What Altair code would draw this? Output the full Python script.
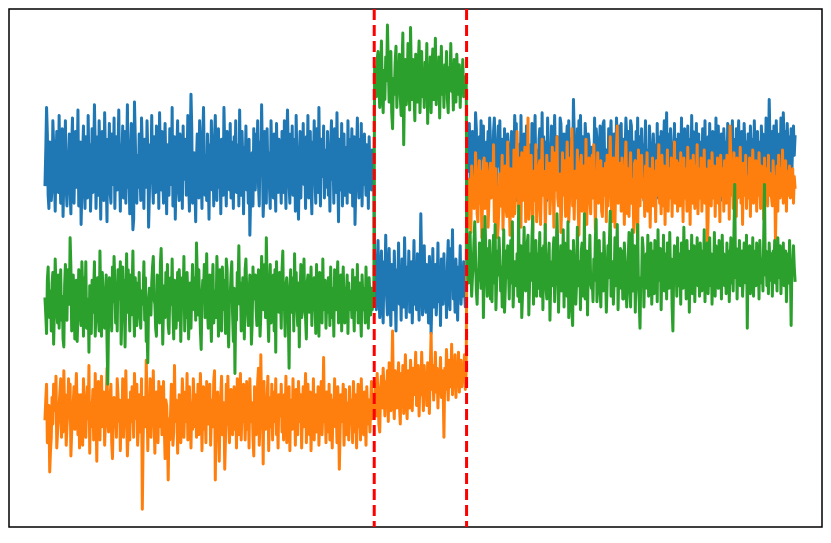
import altair as alt
import pandas as pd
import numpy as np

# Segment boundaries (time index) and change points
SEG_BOUNDS = [(0, 438), (439, 561), (562, 999)]
CHANGE_POINTS = [438.5, 561.5]

# ---- Blue series ----
blue_seg1 = [131,144,160,150,127,122,147,139,125,130,155,146,134,121,140,151,148,128,157,136,124,144,152,119,133,141,155,130,123,143,
             141,150,128,120,146,156,135,124,141,151,130,139,159,123,136,147,116,129,143,153,133,122,149,140,126,157,137,146,121,132,
             152,128,140,161,145,122,135,149,127,155,139,118,143,151,130,125,158,141,133,117,148,137,154,128,124,150,140,131,156,122,
             139,149,129,143,159,135,121,146,140,153,126,133,151,124,141,161,130,137,120,145,154,128,114,118,162,149,133,124,142,130,
             150,137,125,156,145,133,122,148,139,130,155,143,115,127,146,138,157,132,124,149,140,128,153,135,145,122,158,141,129,151,
             134,124,143,154,137,120,146,139,127,152,141,131,160,123,140,149,118,134,145,155,130,125,150,137,143,122,153,133,140,148,
             127,139,157,132,121,146,165,152,124,137,143,130,117,140,150,133,126,155,145,135,122,148,160,138,127,142,125,150,134,118,
             146,136,155,129,143,123,149,157,135,125,142,152,130,139,120,148,140,127,160,145,133,123,151,136,142,129,154,126,147,138,
             122,149,134,155,128,139,146,123,159,137,127,151,141,120,145,133,153,129,140,124,148,112,126,135,143,123,152,138,129,150,
             140,155,131,123,147,136,161,141,119,129,151,138,124,152,135,143,130,122,155,139,146,126,150,135,121,154,137,128,148,141,
             133,124,151,139,128,155,136,122,147,159,143,131,124,150,137,153,127,134,148,121,157,140,129,118,139,151,126,145,136,154,
             131,141,122,149,136,157,126,139,151,130,120,147,137,155,133,124,152,142,128,160,136,123,148,139,134,153,126,144,136,130,
             151,127,140,121,146,155,133,142,124,152,137,128,158,134,117,148,141,129,154,123,136,150,127,138,145,124,155,134,148,128,
             140,152,123,135,149,116,130,143,156,136,126,148,133,154,123,141,131,150,137,127,146,139,122,149,134,141,129,144,138,135]
blue_seg2 = [103,94,84,100,110,91,81,98,106,87,79,102,93,112,89,82,98,107,88,78,101,95,84,106,92,76,99,
             90,109,86,97,80,103,94,85,111,95,81,100,89,106,83,97,102,79,92,110,86,98,84,105,91,80,96,
             120,100,82,94,108,88,83,101,92,79,104,96,75,89,107,85,95,101,82,91,109,87,97,78,103,94,86,
             105,89,98,81,100,110,91,84,107,95,114,88,98,83,103,92,80,100,94,108,86,97,89,102,92,85,95]
blue_seg3 = [148,139,136,154,144,130,138,151,146,134,140,158,152,128,136,147,149,134,155,141,143,153,132,137,126,147,140,151,136,156,
             148,131,141,128,151,156,143,136,129,144,153,138,155,134,124,148,141,132,152,130,141,127,150,146,138,137,130,151,127,133,
             140,157,147,154,125,145,146,137,132,157,131,140,143,150,129,123,153,147,144,138,134,146,128,154,150,135,144,157,133,125,
             144,126,148,152,140,137,158,130,149,141,147,133,125,156,145,135,146,128,153,129,152,143,157,137,132,149,143,138,127,156,
             154,144,131,134,150,140,124,147,153,140,155,136,131,148,144,137,163,150,128,145,133,152,136,155,143,157,138,126,149,130,
             134,154,147,140,130,150,147,138,137,145,129,144,136,156,134,152,148,125,140,141,153,130,131,147,154,155,137,143,144,127,
             134,152,136,148,155,141,131,133,150,138,140,156,147,130,145,153,137,154,129,126,148,141,143,156,149,135,144,151,131,155,
             153,141,134,147,140,128,151,138,156,132,143,149,127,152,136,146,125,141,155,134,144,138,130,153,147,136,143,128,150,140,
             137,146,132,154,126,149,140,130,151,136,147,144,155,134,141,158,128,150,138,131,152,146,137,143,127,154,136,148,130,140,
             150,132,143,137,156,128,147,138,152,134,144,129,153,141,136,148,131,157,140,151,130,146,137,154,126,143,150,134,147,138,
             131,152,141,136,155,127,146,140,149,133,154,137,144,130,151,138,147,128,156,136,143,153,134,146,125,150,140,131,152,144,
             137,147,129,154,141,134,150,144,138,155,131,148,140,127,152,136,146,155,137,143,130,151,140,134,154,144,136,147,128,150,
             141,134,153,144,137,148,131,155,140,146,128,151,136,147,138,130,153,143,150,134,144,137,156,132,152,140,163,147,136,144,
             151,131,153,141,134,155,140,146,130,150,138,156,143,136,158,147,140,151,133,154,144,137,149,141,152,136,147,153,142,149]

# ---- Orange series ----
orange_seg1 = [43,50,56,34,43,48,23,31,36,51,41,56,54,46,59,32,38,42,48,53,58,36,44,38,61,46,52,33,40,45,
               58,49,56,29,38,43,49,55,39,51,60,46,37,52,32,42,52,45,33,58,50,39,36,48,55,43,63,30,49,40,
               46,54,35,39,60,45,27,50,57,43,35,51,59,40,48,53,33,42,49,62,43,38,45,52,56,34,28,46,51,40,
               45,36,58,52,42,50,31,48,39,58,36,49,44,61,42,29,38,50,35,53,42,55,46,36,60,49,43,56,33,40,
               52,47,38,58,9,34,51,46,40,65,50,31,48,39,58,36,49,44,61,42,30,49,53,43,34,57,46,40,55,37,
               46,57,40,28,50,48,39,20,43,35,45,56,54,33,38,63,42,50,49,30,45,52,40,34,44,58,49,36,48,53,
               42,60,35,50,55,45,32,49,39,58,48,40,52,36,46,56,37,44,60,50,31,46,55,39,49,34,57,45,41,52,
               56,33,44,50,40,57,61,20,48,46,53,39,27,44,52,59,37,46,49,24,36,56,41,59,42,34,45,54,52,37,
               48,55,39,49,32,58,44,37,52,60,35,46,42,56,49,35,45,57,39,50,32,58,46,42,49,36,29,55,45,37,
               46,57,62,33,42,67,44,53,26,57,41,39,48,50,59,31,44,51,40,56,35,48,53,42,58,37,46,32,52,44,
               45,56,38,49,35,52,43,59,34,48,41,55,31,50,46,39,58,42,49,33,54,45,37,57,48,42,52,32,46,55,
               40,50,60,34,46,56,43,37,53,31,49,42,58,35,48,52,38,45,55,33,44,50,57,37,46,66,42,49,34,53,
               48,38,56,35,52,45,32,50,43,58,40,49,34,55,46,24,38,52,42,48,56,33,45,54,37,49,44,35,55,46,
               50,42,34,57,45,38,52,32,48,56,40,46,35,58,43,49,37,53,45,33,55,46,41,50,38,48,57,43,49,45]
orange_seg2 = [49,56,44,60,52,41,38,54,59,47,62,55,44,57,50,61,42,64,53,46,58,76,51,43,61,55,47,
               57,64,48,41,60,53,63,45,56,67,50,43,61,54,47,65,57,46,62,52,58,68,48,55,63,44,59,
               52,68,56,46,63,53,60,48,64,57,45,61,75,54,63,50,58,68,53,62,47,60,56,66,51,61,57,
               36,62,54,69,58,50,65,59,55,71,52,62,56,67,51,63,57,68,53,60,65,55,62,58,67,54,61]
orange_seg3 = [120,129,133,115,126,113,138,131,130,122,126,143,135,120,117,130,140,124,136,111,127,132,141,122,134,139,131,115,124,135,
               139,126,135,129,146,117,129,137,127,111,116,125,135,123,131,142,114,126,131,138,122,119,147,132,126,112,137,136,129,119,
               144,120,127,139,151,136,123,133,141,115,143,125,127,137,145,117,131,125,156,118,134,132,142,123,113,136,130,125,146,117,
               122,131,138,140,116,129,148,127,136,134,114,126,142,126,133,139,120,128,132,145,136,115,137,143,129,149,126,123,131,135,
               113,122,143,127,137,140,119,130,147,131,117,125,141,134,152,123,132,118,136,129,126,144,123,112,133,139,142,121,130,138,
               129,119,148,116,136,132,141,125,120,137,142,126,146,132,114,135,128,143,124,133,130,140,121,119,137,129,127,139,117,142,
               123,136,134,149,127,117,129,141,138,115,132,145,153,124,126,136,139,121,141,130,132,116,137,147,127,120,137,119,134,143,
               124,129,133,113,139,140,129,118,110,144,126,123,136,142,131,126,133,119,138,127,143,121,132,137,115,134,129,141,123,131,
               136,117,140,127,133,146,124,130,120,142,132,123,138,116,134,129,144,121,137,126,130,141,119,136,127,147,124,132,140,121,
               131,139,123,143,129,134,117,141,126,137,132,121,145,127,136,116,140,130,124,142,133,122,138,129,146,120,131,137,126,141,
               121,134,127,144,124,137,130,107,118,140,129,133,123,143,131,126,138,119,136,128,141,124,134,117,142,130,127,137,121,140,
               132,124,142,128,136,118,153,140,127,133,122,143,130,137,119,141,126,134,128,145,124,136,116,139,131,127,142,122,134,130,
               126,141,119,137,130,144,124,133,128,140,121,136,127,143,132,122,138,128,134,118,141,125,137,130,123,142,127,135,131,126,
               123,140,130,134,110,127,138,121,142,131,126,137,128,144,124,134,130,140,121,136,127,133,138,126,132,128,137,124,134,130]

# ---- Green series ----
green_seg1 = [88,82,75,95,100,85,81,91,76,94,98,71,84,103,92,84,79,97,77,90,99,80,89,73,70,93,101,83,80,99,
              93,86,111,100,76,83,97,89,73,86,95,72,82,99,91,83,78,102,91,74,96,85,102,77,79,88,68,93,82,75,
              95,83,91,102,74,85,88,96,81,76,106,87,74,98,91,89,77,85,97,72,56,80,96,90,84,76,100,87,104,94,
              79,92,76,99,88,93,102,71,82,100,86,95,70,89,105,83,99,88,76,97,82,91,106,85,74,96,88,78,94,84,
              98,81,77,91,86,89,102,80,96,72,77,64,88,92,83,82,94,100,104,88,86,77,74,97,84,89,79,101,107,92,
              71,85,93,81,98,88,101,78,75,90,96,86,103,83,73,95,88,77,85,98,80,99,91,72,86,96,88,104,76,92,
              81,98,89,73,85,94,77,91,101,88,84,96,80,109,97,82,99,86,76,69,89,95,91,101,81,88,105,84,77,91,
              97,83,72,92,101,79,86,91,81,104,94,74,88,99,83,76,100,89,84,95,75,103,99,80,70,88,89,97,102,82,
              72,92,60,84,80,98,92,108,86,94,76,81,96,86,73,99,103,91,83,78,89,97,91,71,79,100,88,96,97,84,
              78,91,99,88,74,82,104,96,84,92,101,81,111,94,82,72,91,101,79,89,88,97,76,99,68,102,86,92,83,98,
              91,77,99,106,84,86,74,93,96,88,81,62,91,99,83,88,96,76,105,86,98,84,78,94,70,89,101,81,96,91,
              103,83,81,73,94,97,86,83,89,100,78,92,84,96,88,75,101,81,91,74,98,86,92,79,103,84,89,95,77,88,
              83,96,91,78,100,86,81,92,74,99,88,84,94,102,79,91,83,97,76,89,100,86,79,92,88,97,75,94,84,91,
              89,81,99,86,76,96,91,84,101,79,88,94,83,74,97,89,84,92,79,100,86,91,77,96,88,82,92,84,89,87]
green_seg2 = [175,170,164,178,181,168,160,172,185,166,158,174,163,179,170,191,176,162,169,181,158,152,171,165,177,183,160,
              172,168,180,164,157,175,188,146,170,178,161,167,184,174,159,190,171,163,178,166,155,180,169,162,176,185,158,
              170,181,164,173,160,177,168,184,154,172,166,179,158,175,182,163,170,186,161,173,167,179,156,171,183,165,174,
              160,176,169,181,163,158,175,170,184,166,172,159,178,168,162,180,171,165,176,160,173,169,178,164,171,167,172]
green_seg3 = [105,97,94,108,113,100,89,96,101,110,117,104,91,86,99,95,109,101,92,104,114,81,97,119,107,99,89,107,92,110,
              88,97,87,104,112,94,116,84,95,106,97,111,103,91,100,85,96,114,83,92,106,96,108,99,88,103,110,94,117,85,
              95,102,99,93,105,89,123,87,100,108,81,90,102,115,96,91,97,109,112,82,94,105,95,111,119,86,97,100,110,89,
              105,92,101,113,89,96,107,84,108,99,116,92,88,96,103,109,80,95,102,93,106,111,87,96,104,120,107,83,97,91,
              108,91,100,114,85,109,100,95,89,117,81,99,106,90,83,78,110,102,99,86,94,115,93,99,102,84,106,109,96,89,
              120,88,97,106,82,103,100,112,94,92,95,87,103,95,111,118,87,96,98,110,91,85,105,97,91,113,102,99,83,93,
              108,96,110,121,89,100,102,86,95,111,93,105,116,84,99,98,107,92,106,88,88,109,102,96,85,93,104,113,95,85,
              100,114,91,98,108,83,103,97,116,93,87,77,96,94,111,107,85,100,97,105,92,112,89,102,95,109,86,98,106,90,
              110,96,103,87,114,95,99,107,84,102,93,112,91,97,105,88,109,100,92,113,95,103,85,76,98,108,96,102,89,111,
              93,105,99,86,109,100,92,115,96,103,88,110,97,106,83,102,95,112,90,100,108,87,104,96,111,93,102,89,109,99,
              91,106,96,114,87,103,99,109,90,100,111,93,105,86,102,96,113,89,108,97,100,92,110,94,103,88,112,98,105,93,
              102,90,109,97,106,87,100,111,94,103,91,113,131,96,107,88,105,99,110,93,100,106,89,97,109,102,94,112,77,105,
              98,108,90,102,96,111,89,106,100,93,109,97,104,88,110,100,94,103,91,112,131,97,106,93,102,90,109,100,95,105,
              89,106,98,110,94,102,91,111,100,96,108,90,103,97,109,93,102,106,87,99,105,94,110,100,78,102,97,108,100,95]

series = {
    "blue": [blue_seg1, blue_seg2, blue_seg3],
    "orange": [orange_seg1, orange_seg2, orange_seg3],
    "green": [green_seg1, green_seg2, green_seg3],
}
colors = {"blue": "#1f77b4", "orange": "#ff7f0e", "green": "#2ca02c"}


def build(name):
    xs, ys = [], []
    for (a, b), seg in zip(SEG_BOUNDS, series[name]):
        xs.extend(np.linspace(a, b, len(seg)).tolist())
        ys.extend(seg)
    return pd.DataFrame({"t": xs, "v": ys})


x_scale = alt.Scale(domain=[-47.95, 1034.9], nice=False, zero=False)
y_scale = alt.Scale(domain=[2.3, 197.0], nice=False, zero=False)

layers = []
for name in ["blue", "orange", "green"]:
    layers.append(
        alt.Chart(build(name)).mark_line(
            color=colors[name], strokeWidth=3, strokeJoin="round", strokeCap="square"
        ).encode(
            x=alt.X("t:Q", scale=x_scale, axis=None),
            y=alt.Y("v:Q", scale=y_scale, axis=None),
        )
    )

rules = alt.Chart(pd.DataFrame({"t": CHANGE_POINTS})).mark_rule(
    color="#ff0000", strokeWidth=3, strokeDash=[11, 5]
).encode(x=alt.X("t:Q", scale=x_scale, axis=None))

chart = alt.layer(*layers, rules).properties(
    width=813, height=518, padding=1, background="white",
    autosize=alt.AutoSizeParams(type="none"),
).configure_view(stroke="black", strokeWidth=1.5)

chart.save("out.html", embed_options={"renderer": "svg", "actions": False})
